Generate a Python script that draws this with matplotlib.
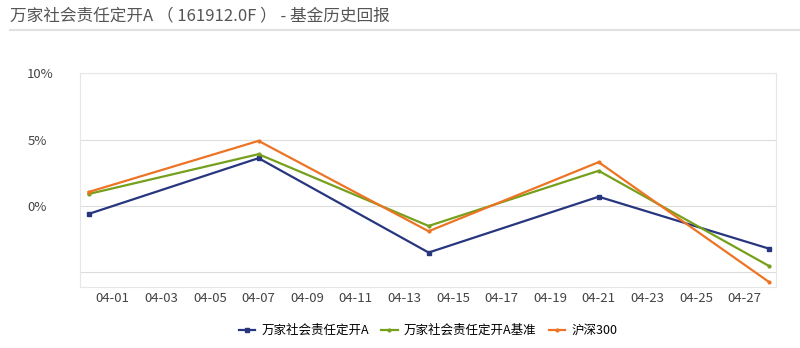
import matplotlib.pyplot as plt
import matplotlib.ticker as mticker

plt.rcParams["font.family"] = ["Noto Sans CJK SC", "DejaVu Sans"]

# days counted from 03-31
days = [0, 7, 14, 21, 28]
fund = [-0.6, 3.6, -3.5, 0.7, -3.2]
bench = [0.9, 3.9, -1.5, 2.65, -4.5]
hs300 = [1.05, 4.9, -1.9, 3.3, -5.7]

tick_days = list(range(1, 28, 2))
tick_labels = ["04-%02d" % d for d in tick_days]
y_ticks = [-5, 0, 5, 10]
y_labels = ["", "0%", "5%", "10%"]

fig = plt.figure(figsize=(8, 3.48), dpi=100)
ax = fig.add_axes([0.1, 0.175, 0.87, 0.615])

ax.plot(days, fund, color="#27367e", lw=1.6, marker="s", ms=3.5, label="万家社会责任定开A")
ax.plot(days, bench, color="#76a01c", lw=1.6, marker="o", ms=2, label="万家社会责任定开A基准")
ax.plot(days, hs300, color="#ec7424", lw=1.6, marker="o", ms=2, label="沪深300")

ax.set_xlim(-0.35, 28.3)
ax.set_ylim(-6.1, 10)
ax.set_xticks(tick_days)
ax.set_xticklabels(tick_labels)
ax.set_yticks(y_ticks)
ax.set_yticklabels(y_labels)
ax.grid(axis="y", color="#dddddd", lw=0.8)
ax.tick_params(length=0, labelsize=9.5, colors="#444444")
ax.tick_params(axis="y", pad=38)
for lbl in ax.get_yticklabels():
    lbl.set_horizontalalignment("left")
for s in ax.spines.values():
    s.set_color("#e6e6e6")
    s.set_linewidth(0.8)

ax.legend(loc="upper center", bbox_to_anchor=(0.5, -0.12), ncol=3, frameon=False,
          fontsize=9, handlelength=1.3, handletextpad=0.5, columnspacing=1.0)

fig.text(0.012, 0.955, "万家社会责任定开A （ 161912.0F ） - 基金历史回报",
         fontsize=12, color="#555555", va="center")
fig.add_artist(plt.Line2D([0.012, 1.0], [0.915, 0.915], color="#e0e0e0", lw=1.5))

fig.savefig("out.png", dpi=100, facecolor="white")
